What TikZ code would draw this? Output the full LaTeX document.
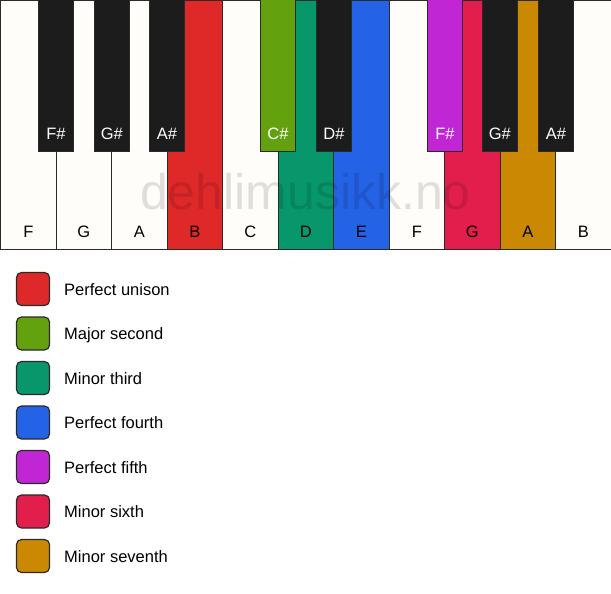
\documentclass[tikz,border=0pt]{standalone}
\usepackage{fontspec}
\setmainfont{Liberation Sans}
\definecolor{wkey}{HTML}{FFFDF9}
\definecolor{bkey}{HTML}{1C1C1C}
\definecolor{cuni}{HTML}{DF2828}
\definecolor{csec}{HTML}{63A10F}
\definecolor{cthi}{HTML}{07976B}
\definecolor{cfou}{HTML}{2563E6}
\definecolor{cfif}{HTML}{C026D3}
\definecolor{csix}{HTML}{E11E4C}
\definecolor{csev}{HTML}{CB8903}
\definecolor{edge}{HTML}{2A2A2A}
\begin{document}
\begin{tikzpicture}[x=1pt,y=-1pt,
  whitekey/.style={draw=edge,line width=1.3pt,fill=wkey,anchor=north west,inner sep=0,minimum width=55.5pt,minimum height=249pt},
  blackkey/.style={draw=edge,line width=1.3pt,fill=bkey,anchor=north west,inner sep=0,minimum width=34.5pt,minimum height=153pt},
  wlabel/.style={font=\fontsize{16.5}{16.5}\selectfont,text=black,anchor=base,inner sep=0},
  blabel/.style={font=\fontsize{16.5}{16.5}\selectfont,text=white,anchor=base,inner sep=0},
  legbox/.style={draw=edge,line width=1.2pt,rounded corners=5pt,minimum width=33pt,minimum height=33pt,inner sep=0},
  legtext/.style={font=\fontsize{16.5}{16.5}\selectfont,anchor=base west,inner sep=0}]
\useasboundingbox (0,0) rectangle (611,594);
\fill[white] (0,0) rectangle (611,594);
% white keys
\foreach \n/\i/\c in {wF1/0/wkey,wG1/1/wkey,wA1/2/wkey,wB1/3/cuni,wC/4/wkey,wD/5/cthi,wE/6/cfou,wF2/7/wkey,wG2/8/csix,wA2/9/csev,wB2/10/wkey}{
  \node[whitekey,fill=\c] (\n) at (\i*55.5,0) {};
}
\foreach \n/\t in {wF1/F,wG1/G,wA1/A,wB1/B,wC/C,wD/D,wE/E,wF2/F,wG2/G,wA2/A,wB2/B}{
  \node[wlabel] (l\n) at ([yshift=12.5pt]\n.south) {\t};
}
% watermark
\node[font=\fontsize{50}{50}\selectfont,text=black,text opacity=0.12] (wm) at (305.5,192) {dehlimusikk.no};
% black keys
\foreach \n/\x/\c/\t in {bF1/38/bkey/F\#,bG1/94/bkey/G\#,bA1/149/bkey/A\#,bC/260/csec/C\#,bD/316/bkey/D\#,bF2/427/cfif/F\#,bG2/482/bkey/G\#,bA2/538/bkey/A\#}{
  \node[blackkey,fill=\c] (\n) at (\x,-2) {};
  \node[blabel] (l\n) at ([yshift=12.5pt]\n.south) {\t};
}
% legend
\foreach \n/\y/\c/\t in {g1/289/cuni/Perfect unison,g2/333.5/csec/Major second,g3/378/cthi/Minor third,g4/422.5/cfou/Perfect fourth,g5/467/cfif/Perfect fifth,g6/511.5/csix/Minor sixth,g7/556/csev/Minor seventh}{
  \node[legbox,fill=\c] (\n) at (33,\y) {};
  \node[legtext] (\n t) at (64,\y+6) {\t};
}
\end{tikzpicture}
\end{document}
